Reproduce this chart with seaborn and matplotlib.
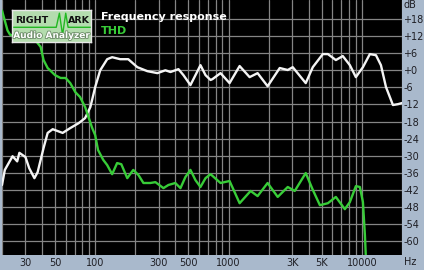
import numpy as np
import pandas as pd
import matplotlib
matplotlib.use('Agg')
import matplotlib.pyplot as plt
import matplotlib.patheffects as pe
from matplotlib.ticker import FixedLocator, NullFormatter
import seaborn as sns

# ---- data ----
fr_freq = [20, 21, 24, 26, 27, 30, 32, 35, 37, 41, 44, 48, 57, 65, 75, 84, 92, 100,
           109, 123, 134, 154, 177, 207, 246, 293, 336, 367, 421, 459, 518, 565, 616,
           672, 733, 758, 871, 1018, 1211, 1439, 1652, 1964, 2421, 2780, 3030, 3794,
           4285, 5096, 5560, 6383, 7194, 8128, 9016, 10186, 11480, 12760, 13900,
           15170, 17100, 18660, 20000]
fr_db = [-40.3, -35.0, -30.2, -32.0, -29.0, -30.5, -34.4, -37.9, -35.8, -27.3, -22.0,
         -20.7, -22.0, -20.3, -18.6, -16.8, -12.9, -5.9, 0.0, 3.9, 4.6, 3.9, 3.9, 1.1,
         -0.3, -1.0, 0.0, -0.6, 0.4, -1.7, -5.2, -1.7, 1.8, -1.7, -3.4, -3.1, -1.0,
         -4.5, 1.5, -2.4, -1.0, -5.6, 0.8, 0.1, 1.1, -4.5, 1.1, 5.7, 5.7, 3.6, 5.0,
         1.8, -2.4, 1.1, 5.7, 5.3, 1.8, -5.9, -12.2, -11.9, -11.5]

thd_freq = [20, 22, 23, 27, 35, 39, 41, 44, 50, 55, 60, 65, 71, 77, 84, 89, 95, 100,
            105, 115, 123, 134, 146, 157, 174, 193, 211, 230, 259, 283, 325, 354, 399,
            436, 475, 518, 565, 616, 672, 733, 871, 1018, 1211, 1464, 1652, 1964, 2338,
            2780, 3137, 3794, 4285, 4844, 5560, 6383, 7452, 8128, 9016, 9660, 10186,
            10540, 10720]
thd_db = [21.0, 14.0, 12.5, 11.5, 11.0, 8.2, 3.6, 0.8, -1.7, -2.7, -2.7, -4.5, -7.7,
          -9.4, -12.9, -16.4, -20.3, -22.8, -28.0, -31.5, -33.3, -36.5, -32.6, -33.0,
          -37.9, -35.0, -36.8, -39.6, -39.6, -39.3, -41.4, -40.3, -39.6, -41.4, -37.5,
          -35.0, -38.6, -41.0, -37.9, -36.5, -39.6, -38.9, -46.7, -42.4, -44.2, -39.6,
          -44.5, -41.0, -42.4, -36.1, -42.0, -47.4, -46.7, -44.5, -48.8, -46.3, -40.7,
          -41.0, -46.3, -57.9, -66.0]

x_tick_vals = [30, 50, 100, 300, 500, 1000, 3000, 5000, 10000]
x_tick_labels = ['30', '50', '100', '300', '500', '1000', '3K', '5K', '10000']
y_tick_vals = [18, 12, 6, 0, -6, -12, -18, -24, -30, -36, -42, -48, -54, -60]
y_tick_labels = ['+18', '+12', '+6', '+0', '-6', '-12', '-18', '-24', '-30', '-36',
                 '-42', '-48', '-54', '-60']

# ---- style ----
FRAME = '#a9b9cc'
GREEN = '#38cc38'
WHITE = '#f4f4f4'
GRID = '#858585'
TXT = '#1e1e24'

sns.set_style('dark')
plt.rcParams['font.family'] = ['DejaVu Sans']

W, H = 424, 270
fig = plt.figure(figsize=(W / 100, H / 100), dpi=100, facecolor=FRAME)
ax = fig.add_axes([2 / W, 15 / H, 400 / W, 255 / H])
ax.set_facecolor('black')

df_fr = pd.DataFrame({'freq': fr_freq, 'db': fr_db})
df_thd = pd.DataFrame({'freq': thd_freq, 'db': thd_db})
sns.lineplot(data=df_fr, x='freq', y='db', ax=ax, color=WHITE, lw=1.7, zorder=3,
             sort=False)
sns.lineplot(data=df_thd, x='freq', y='db', ax=ax, color=GREEN, lw=1.7, zorder=3,
             sort=False)

ax.set_xscale('log')
ax.set_xlim(20, 20000)
ax.set_ylim(-64.9, 24.7)

minor = [m * 10 ** k for k in range(1, 5) for m in range(1, 10)
         if 20 <= m * 10 ** k <= 20000 and m * 10 ** k not in x_tick_vals]
ax.xaxis.set_major_locator(FixedLocator(x_tick_vals))
ax.set_xticklabels(x_tick_labels)
ax.xaxis.set_minor_locator(FixedLocator(minor))
ax.xaxis.set_minor_formatter(NullFormatter())
ax.set_yticks(y_tick_vals)
ax.set_yticklabels(y_tick_labels)
ax.yaxis.tick_right()
ax.grid(which='both', color=GRID, lw=0.9, zorder=1)
ax.set_axisbelow(True)
ax.tick_params(axis='both', which='both', length=0, labelsize=7, colors=TXT)
ax.tick_params(axis='x', pad=2)
ax.tick_params(axis='y', pad=1)
ax.set_xlabel('')
ax.set_ylabel('')
for s in ax.spines.values():
    s.set_visible(False)

fig.text(404 / W, 1 - 5 / H, 'dB', ha='left', va='center', fontsize=7, color=TXT)
fig.text(404 / W, 1 - 262 / H, 'Hz', ha='left', va='center', fontsize=7, color=TXT)

# legend texts
fig.text(101 / W, 1 - 17 / H, 'Frequency response', ha='left', va='center',
         fontsize=8, fontweight='bold', color='white')
fig.text(101 / W, 1 - 31 / H, 'THD', ha='left', va='center', fontsize=8,
         fontweight='bold', color=GREEN)

# logo
lax = fig.add_axes([12 / W, 1 - 42 / H, 79 / W, 32 / H])
lax.set_facecolor('#b4dcae')
lax.set_xlim(0, 1)
lax.set_ylim(0, 1)
lax.set_xticks([])
lax.set_yticks([])
for s in lax.spines.values():
    s.set_color('#e8e8e8')
    s.set_linewidth(1)
lax.plot([0.0, 0.53, 0.56, 0.60, 0.64, 0.68, 0.71, 1.0],
         [0.46, 0.46, 0.46, 0.9, 0.22, 0.9, 0.46, 0.46], color='#22b822', lw=1.0)
lax.text(0.04, 0.66, 'RIGHT', fontsize=6.8, fontweight='bold', color='#101010',
         va='center', ha='left')
lax.text(0.71, 0.66, 'ARK', fontsize=6.8, fontweight='bold', color='#101010',
         va='center', ha='left')
lax.text(0.5, 0.2, 'Audio Analyzer', fontsize=6.5, fontweight='bold', color='white',
         va='center', ha='center',
         path_effects=[pe.withStroke(linewidth=1.2, foreground='#6a8a66')])

fig.savefig('out.png', dpi=100, facecolor=FRAME)
